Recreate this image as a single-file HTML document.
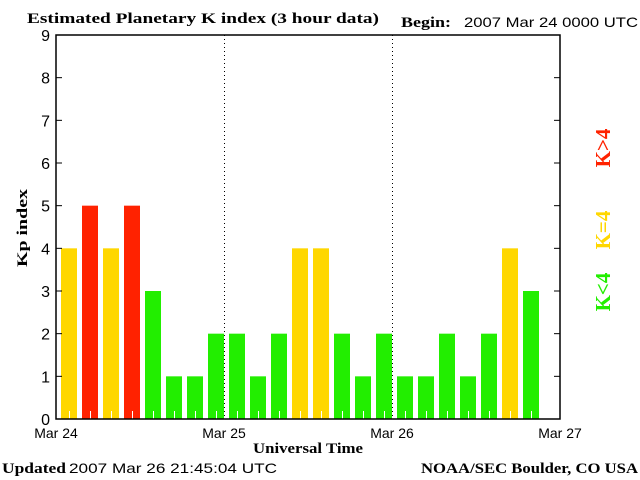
<!DOCTYPE html>
<html><head><meta charset="utf-8"><style>
body{margin:0;background:#fff;width:640px;height:480px;overflow:hidden}
svg{display:block}
.t{font-family:"Liberation Sans",sans-serif;font-size:14px;fill:#000}
.b{font-family:"Liberation Serif",serif;font-weight:bold;font-size:15px;fill:#000}
</style></head><body>
<svg id="c" width="640" height="480">
<text class="b" x="27" y="23" textLength="352" lengthAdjust="spacingAndGlyphs">Estimated Planetary K index (3 hour data)</text>
<text class="b" x="401" y="27" textLength="50" lengthAdjust="spacingAndGlyphs">Begin:</text>
<text class="t" x="464" y="27" textLength="174" lengthAdjust="spacingAndGlyphs">2007 Mar 24 0000 UTC</text>
<g id="bars"></g>
<g id="axes"></g>
<text class="b" x="0" y="0" transform="translate(27,228) rotate(-90)" text-anchor="middle" textLength="78" lengthAdjust="spacingAndGlyphs">Kp index</text>
<text class="b" x="253" y="453" textLength="110" lengthAdjust="spacingAndGlyphs">Universal Time</text>
<text class="b" x="2" y="473" textLength="64" lengthAdjust="spacingAndGlyphs">Updated</text>
<text class="t" x="69" y="473" textLength="208" lengthAdjust="spacingAndGlyphs">2007 Mar 26 21:45:04 UTC</text>
<text class="b" x="421" y="473" textLength="217" lengthAdjust="spacingAndGlyphs">NOAA/SEC Boulder, CO USA</text>
<text class="b" transform="translate(610,148) rotate(-90)" text-anchor="middle" style="fill:#ff2200;font-size:21px">K&gt;4</text>
<text class="b" transform="translate(610,230) rotate(-90)" text-anchor="middle" style="fill:#ffd700;font-size:21px">K=4</text>
<text class="b" transform="translate(610,292) rotate(-90)" text-anchor="middle" style="fill:#22ee00;font-size:21px">K&lt;4</text>
</svg>
<script>
const kpValues=[4,5,4,5,3,1,1,2, 2,1,2,4,4,2,1,2, 1,1,2,1,2,4,3];
const yTicks=[0,1,2,3,4,5,6,7,8,9];
const dayLabels=["Mar 24","Mar 25","Mar 26","Mar 27"];
const L=56,R=560,T=35,B=419;
const x=i=>L+(R-L)*i/24;
const y=v=>B-(B-T)*v/9;
const NS="http://www.w3.org/2000/svg";
function mk(tag,attrs,parent){const e=document.createElementNS(NS,tag);for(const k in attrs)e.setAttribute(k,attrs[k]);parent.appendChild(e);return e;}
const bars=document.getElementById('bars'),axes=document.getElementById('axes');
kpValues.forEach((v,i)=>{
  const col=v>4?'#ff2200':(v==4?'#ffd700':'#22ee00');
  const r=mk('rect',{x:x(i)+5,y:y(v),width:16,height:B-y(v),fill:col},bars);
  
  
  const tk=mk('line',{x1:x(i)+13.5,x2:x(i)+13.5,y1:B-8,y2:B,stroke:'#fff','stroke-width':1},bars);
  
  
});
[1,2].forEach(d=>{
  const l=mk('line',{x1:x(d*8)+0.5,x2:x(d*8)+0.5,y1:T,y2:B,stroke:'#000','stroke-dasharray':'1,3'},axes);
  
  
});
const frame=mk('rect',{x:L,y:T,width:R-L,height:B-T,fill:'none',stroke:'#000','stroke-width':1.5},axes);


yTicks.forEach(v=>{
  mk('line',{x1:L,x2:L+6,y1:y(v),y2:y(v),stroke:'#000'},axes);
  mk('line',{x1:R-6,x2:R,y1:y(v),y2:y(v),stroke:'#000'},axes);
  const t=mk('text',{x:50,y:y(v)+6,'text-anchor':'end',class:'t',style:'font-size:16px'},axes);
  t.textContent=v;
  
  
});
dayLabels.forEach((s,d)=>{
  const t=mk('text',{x:x(d*8),y:438,'text-anchor':'middle',class:'t'},axes);
  t.textContent=s;
  
  
});
</script>
</body></html>
